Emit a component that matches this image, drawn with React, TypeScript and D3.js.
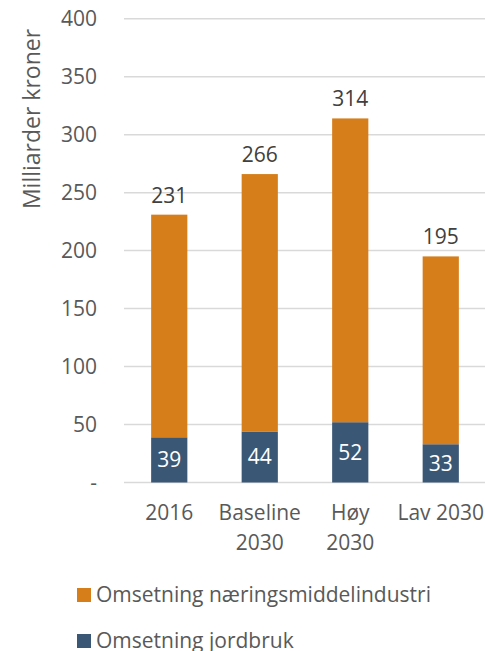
import React, { useEffect, useRef } from 'react'
import * as d3 from 'd3'

const categories = ['2016', 'Baseline\n2030', 'Høy\n2030', 'Lav 2030']
const jordbruk = [39, 44, 52, 33]
const naering = [192, 222, 262, 162]
const totals = [231, 266, 314, 195]
const yTicks = [0, 50, 100, 150, 200, 250, 300, 350, 400]
const seriesNames = ['Omsetning næringsmiddelindustri', 'Omsetning jordbruk']

const W = 485
const H = 651
const ORANGE = '#D67E1A'
const BLUE = '#3A5776'
const FONT = '"Open Sans", sans-serif'
const FS = 21

const App = () => {
    const svgRef = useRef<SVGSVGElement>(null)

    useEffect(() => {
        const svg = d3.select(svgRef.current)
        svg.selectAll('*').remove()

        const left = 124
        const right = 486
        const top = 18.7
        const bottom = 482.5

        const x = d3.scaleBand<string>()
            .domain(categories)
            .range([left, right])
            .paddingInner(0.6)
            .paddingOuter(0.3)

        const y = d3.scaleLinear().domain([0, 400]).range([bottom, top])

        // gridlines
        svg.append('g')
            .selectAll('line')
            .data(yTicks)
            .join('line')
            .attr('x1', left)
            .attr('x2', right)
            .attr('y1', d => y(d))
            .attr('y2', d => y(d))
            .attr('stroke', '#D9D9D9')
            .attr('stroke-width', 1.5)

        // y tick labels
        svg.append('g')
            .selectAll('text')
            .data(yTicks)
            .join('text')
            .attr('x', 97)
            .attr('y', d => y(d))
            .attr('dy', '0.35em')
            .attr('text-anchor', 'end')
            .attr('font-family', FONT)
            .attr('font-size', FS)
            .attr('fill', '#595959')
            .text(d => (d === 0 ? '-' : String(d)))

        // axis title
        svg.append('text')
            .attr('transform', `translate(40,119) rotate(-90)`)
            .attr('text-anchor', 'middle')
            .attr('font-family', FONT)
            .attr('font-size', 23)
            .attr('fill', '#595959')
            .text('Milliarder kroner')

        const stack = categories.map((c, i) => ({ c, j: jordbruk[i], n: naering[i], t: totals[i] }))

        // jordbruk bars
        svg.append('g')
            .selectAll('rect')
            .data(stack)
            .join('rect')
            .attr('x', d => x(d.c)!)
            .attr('width', x.bandwidth())
            .attr('y', d => y(d.j))
            .attr('height', d => y(0) - y(d.j))
            .attr('fill', BLUE)

        // næring bars
        svg.append('g')
            .selectAll('rect')
            .data(stack)
            .join('rect')
            .attr('x', d => x(d.c)!)
            .attr('width', x.bandwidth())
            .attr('y', d => y(d.j + d.n))
            .attr('height', d => y(d.j) - y(d.j + d.n))
            .attr('fill', ORANGE)

        // inner labels
        svg.append('g')
            .selectAll('text')
            .data(stack)
            .join('text')
            .attr('x', d => x(d.c)! + x.bandwidth() / 2)
            .attr('y', d => y(d.j / 2))
            .attr('dy', '0.35em')
            .attr('text-anchor', 'middle')
            .attr('font-family', FONT)
            .attr('font-size', FS)
            .attr('fill', '#FFFFFF')
            .text(d => d.j)

        // total labels
        svg.append('g')
            .selectAll('text')
            .data(stack)
            .join('text')
            .attr('x', d => x(d.c)! + x.bandwidth() / 2)
            .attr('y', d => y(d.t) - 12)
            .attr('text-anchor', 'middle')
            .attr('font-family', FONT)
            .attr('font-size', FS)
            .attr('fill', '#404040')
            .text(d => d.t)

        // category labels
        const cat = svg.append('g')
            .selectAll('text')
            .data(categories)
            .join('text')
            .attr('x', d => x(d)! + x.bandwidth() / 2)
            .attr('y', 520)
            .attr('text-anchor', 'middle')
            .attr('font-family', FONT)
            .attr('font-size', FS)
            .attr('fill', '#595959')
        cat.selectAll('tspan')
            .data(d => d.split('\n'))
            .join('tspan')
            .attr('x', function () { return (this.parentNode as SVGTextElement).getAttribute('x') })
            .attr('dy', (_, i) => (i === 0 ? 0 : 30))
            .text(d => d)

        // legend
        const legend = svg.append('g')
            .selectAll('g')
            .data(seriesNames)
            .join('g')
            .attr('transform', (_, i) => `translate(77,${588 + i * 46})`)
        legend.append('rect')
            .attr('width', 14)
            .attr('height', 14)
            .attr('fill', (_, i) => (i === 0 ? ORANGE : BLUE))
        legend.append('text')
            .attr('x', 19)
            .attr('y', 14)
            .attr('font-family', FONT)
            .attr('font-size', FS)
            .attr('fill', '#595959')
            .text(d => d)
    }, [])

    return (
        <svg ref={svgRef} width={W} height={H}
            style={{ position: 'absolute', left: 0, top: 0, background: '#fff' }} />
    )
}

export default App
